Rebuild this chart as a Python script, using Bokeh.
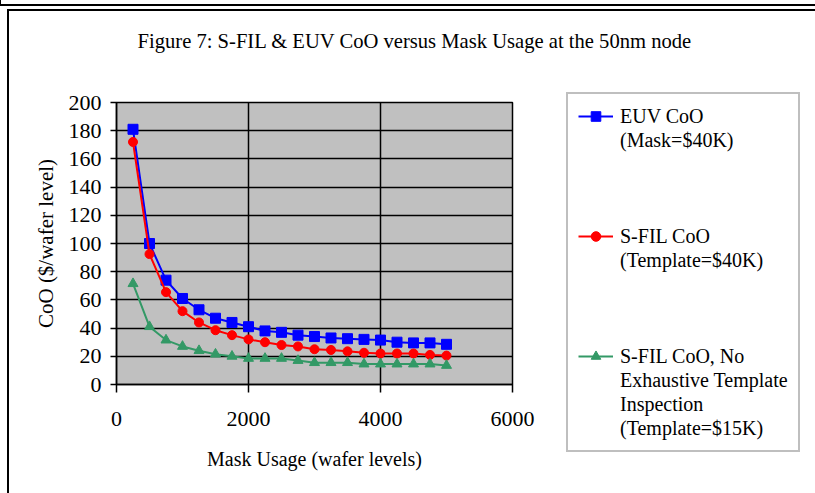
from bokeh.plotting import figure
from bokeh.models import (FixedTicker, Legend, LegendItem, Title, InlineStyleSheet, Range1d)
from bokeh.embed import file_html
from bokeh.resources import INLINE

# ---- data ----
usage = [250, 500, 750, 1000, 1250, 1500, 1750, 2000, 2250, 2500,
         2750, 3000, 3250, 3500, 3750, 4000, 4250, 4500, 4750, 5000]
euv_coo = [181, 100, 74, 61, 53, 47, 44, 41, 38, 37,
           35, 34, 33, 32.5, 32, 31.5, 30, 29.5, 29.5, 28.5]
sfil_coo = [172, 92.5, 65.5, 52, 44, 38.5, 35, 32, 30, 28,
            27, 25, 24.5, 23.5, 22.5, 22, 22, 22, 21, 20.5]
sfil_noinsp_coo = [71.5, 41, 31.5, 27, 24, 21.5, 20, 18.5, 18.5, 18.5,
                   17, 15.5, 15.5, 15.5, 14.5, 14.5, 14.5, 14.5, 14.5, 13.5]
x_ticks = [0, 2000, 4000, 6000]
y_ticks = [0, 20, 40, 60, 80, 100, 120, 140, 160, 180, 200]
title_text = "Figure 7: S-FIL & EUV CoO versus Mask Usage at the 50nm node"
legend_lines = [["EUV CoO", "(Mask=$40K)"],
                ["S-FIL CoO", "(Template=$40K)"],
                ["S-FIL CoO, No", "Exhaustive Template", "Inspection", "(Template=$15K)"]]

FONT = "Liberation Serif"
BLUE, RED, GREEN = "#0000FF", "#FF0000", "#339966"
series_values = [euv_coo, sfil_coo, sfil_noinsp_coo]
series_styles = [(BLUE, "square", 10), (RED, "circle", 9), (GREEN, "triangle", 10)]
legend_marker_sizes = [7, 6, 7]

frame_css = """
:host::before { content: ""; position: absolute; left: 0; top: 0; width: 815px; height: 5.5px;
  box-sizing: border-box; border-left: 1.5px solid black; border-bottom: 2.5px solid black;
  pointer-events: none; z-index: 10; }
:host::after { content: ""; position: absolute; left: 7px; top: 9px; width: 808px; height: 484px;
  box-sizing: border-box; border-left: 2.5px solid black; border-top: 2.5px solid black;
  pointer-events: none; z-index: 10; }
"""

# ================= main chart =================
p = figure(width=815, height=493, x_range=(0, 6000), y_range=(0, 200),
           output_backend="svg", toolbar_location=None,
           min_border_left=116, min_border_right=303,
           min_border_top=102, min_border_bottom=109)
p.stylesheets = [InlineStyleSheet(css=frame_css)]
p.background_fill_color = "#C0C0C0"
p.border_fill_color = "white"
p.outline_line_color = "black"
p.outline_line_width = 1.5

# spacer nearest the frame, then the real title above it
p.add_layout(Title(text=" ", text_font=FONT, text_font_size="44px", standoff=0), "above")
p.add_layout(Title(text=title_text, align="left", offset=21, text_font=FONT,
                   text_font_size="20.6px", text_font_style="normal",
                   text_color="black", standoff=0), "above")

for ax, ticks in ((p.xaxis[0], x_ticks), (p.yaxis[0], y_ticks)):
    ax.ticker = FixedTicker(ticks=ticks)
    ax.minor_tick_line_color = None
    ax.major_tick_in = 0
    ax.axis_line_color = "black"
    ax.axis_line_width = 1.5
    ax.major_tick_line_color = "black"
    ax.major_tick_line_width = 1.5
    ax.major_label_text_font = FONT
    ax.major_label_text_font_size = "22px"
    ax.major_label_text_color = "black"
    ax.axis_label_text_font = FONT
    ax.axis_label_text_font_style = "normal"
    ax.axis_label_text_color = "black"

p.xaxis.axis_label_text_font_size = "20px"
p.yaxis.axis_label_text_font_size = "21px"
p.xaxis.major_tick_out = 8
p.yaxis.major_tick_out = 6
p.xaxis.major_label_standoff = 19
p.yaxis.major_label_standoff = 9
p.xaxis.axis_label = "Mask Usage (wafer levels)"
p.yaxis.axis_label = "CoO ($/wafer level)"
p.xaxis.axis_label_standoff = 19
p.yaxis.axis_label_standoff = 8

for g, ticks in ((p.xgrid[0], x_ticks), (p.ygrid[0], y_ticks)):
    g.ticker = FixedTicker(ticks=ticks)
    g.grid_line_color = "black"
    g.grid_line_width = 1.5
    g.grid_line_alpha = 1.0

for ys, (col, mk, sz) in zip(series_values, series_styles):
    p.line(usage, ys, line_color=col, line_width=2)
    p.scatter(usage, ys, marker=mk, size=sz, color=col)

# ================= legend box (separate small figure placed over the page) =================
leg_css = """
:host { position: fixed !important; left: 564px !important; top: 90px !important; z-index: 20; }
"""
pl = figure(width=236, height=364, x_range=Range1d(-2, -1), y_range=Range1d(-2, -1),
            output_backend="svg", toolbar_location=None,
            min_border=0, x_axis_type=None, y_axis_type=None)
pl.stylesheets = [InlineStyleSheet(css=leg_css)]
pl.styles = {"position": "fixed", "left": "564px", "top": "90px", "z-index": "20"}
pl.grid.visible = False
pl.outline_line_color = None
pl.background_fill_alpha = 0
pl.border_fill_alpha = 0

# the series are also given to this figure (outside its ranges) so the legend can sample them
blank = pl.line(usage, euv_coo, line_alpha=0)   # invisible sample for continuation lines
items = []
for k, (lines, ys, (col, mk, _), lsz) in enumerate(
        zip(legend_lines, series_values, series_styles, legend_marker_sizes)):
    ln = pl.line(usage, ys, line_color=col, line_width=2)
    sc = pl.scatter(usage, ys, marker=mk, size=lsz, color=col)
    if k > 0:
        for _ in range(3):
            items.append(LegendItem(label=" ", renderers=[blank]))
    items.append(LegendItem(label=lines[0], renderers=[ln, sc]))
    for extra in lines[1:]:
        items.append(LegendItem(label=extra, renderers=[blank]))

legend = Legend(items=items, location="top_left", orientation="vertical",
                padding=10, spacing=0, glyph_width=35, glyph_height=24,
                label_height=24, label_standoff=7,
                label_text_font=FONT, label_text_font_size="20px",
                label_text_color="black", label_text_baseline="middle",
                border_line_color="#808080", border_line_width=2,
                background_fill_color="white", background_fill_alpha=1.0,
                margin=2)
pl.add_layout(legend, "center")

open("out.html", "w").write(file_html([p, pl], INLINE))
